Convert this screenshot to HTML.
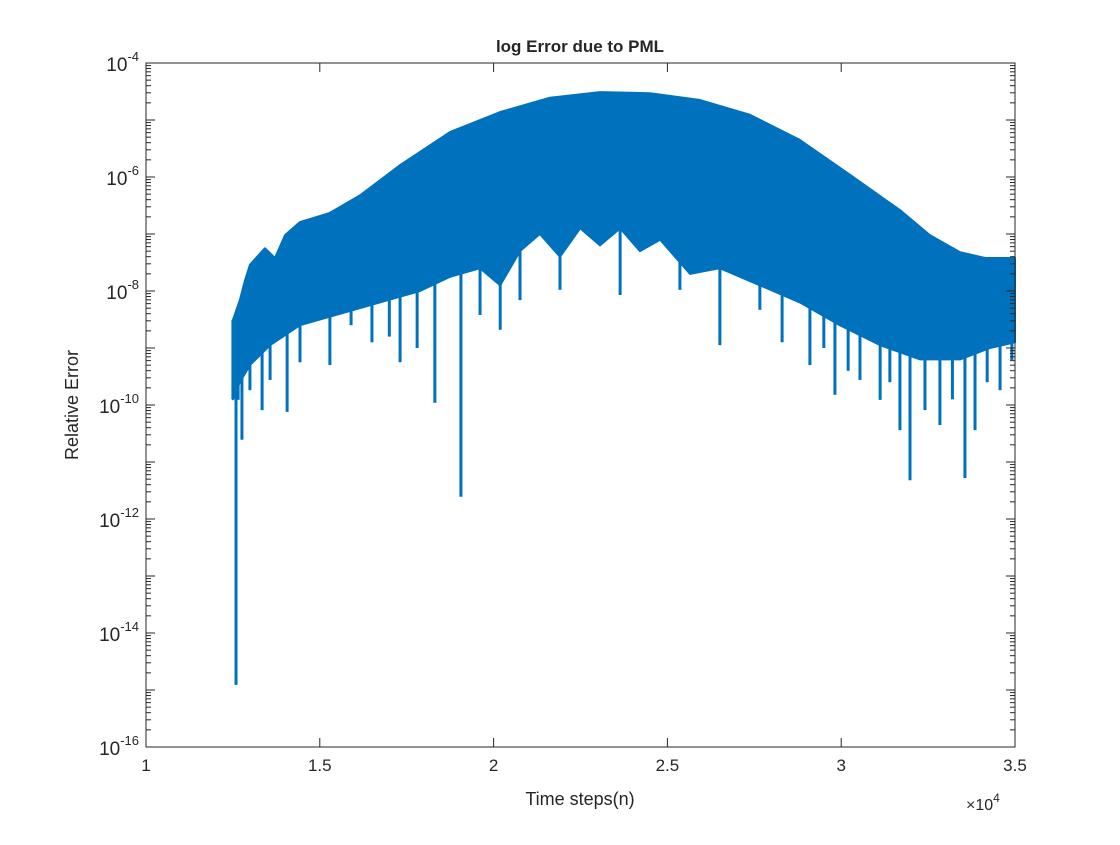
<!DOCTYPE html>
<html><head><meta charset="utf-8"><style>
body{margin:0;background:#fff;}
svg text{font-family:"Liberation Sans",Arial,sans-serif;fill:#262626;}
</style></head><body>
<svg id="chart" width="1120" height="840" xmlns="http://www.w3.org/2000/svg">
<rect width="1120" height="840" fill="#fff"/>
<g id="plot"></g>
<g id="axes"></g>
<text x="580" y="52" text-anchor="middle" font-size="17" font-weight="bold" fill="#000">log Error due to PML</text>
<text x="580" y="805" text-anchor="middle" font-size="18">Time steps(n)</text>
<text transform="translate(78,405) rotate(-90)" text-anchor="middle" font-size="18">Relative Error</text>
<text x="966" y="810" font-size="16">×10<tspan dy="-8" font-size="12">4</tspan></text>
</svg>
<script>
// x in units of 1e4 time steps, y as log10(relative error)
const upperX=[1.250,1.270,1.285,1.299,1.342,1.371,1.400,1.443,1.529,1.616,1.731,1.875,2.019,2.162,2.306,2.450,2.594,2.738,2.881,3.025,3.169,3.255,3.342,3.414,3.5];
const upperY=[-8.51,-8.16,-7.81,-7.54,-7.25,-7.42,-7.02,-6.79,-6.63,-6.32,-5.79,-5.21,-4.86,-4.61,-4.51,-4.53,-4.65,-4.91,-5.35,-5.96,-6.58,-7.02,-7.32,-7.42,-7.42];
const lowerX=[1.250,1.270,1.299,1.357,1.443,1.558,1.673,1.788,1.875,1.961,2.019,2.076,2.133,2.191,2.249,2.306,2.364,2.421,2.479,2.565,2.651,2.766,2.881,2.996,3.112,3.227,3.342,3.428,3.5];
const lowerY=[-9.9,-9.6,-9.3,-8.95,-8.6,-8.4,-8.2,-8.0,-7.75,-7.6,-7.9,-7.3,-7.0,-7.4,-6.9,-7.2,-6.9,-7.3,-7.1,-7.7,-7.6,-7.9,-8.2,-8.6,-8.95,-9.2,-9.2,-9.0,-8.9];
const spikeX=[1.259,1.265,1.276,1.299,1.334,1.357,1.406,1.443,1.529,1.590,1.650,1.700,1.731,1.780,1.831,1.906,1.961,2.019,2.076,2.191,2.364,2.536,2.651,2.766,2.830,2.910,2.950,2.982,3.020,3.054,3.112,3.140,3.169,3.198,3.241,3.284,3.320,3.356,3.385,3.420,3.457,3.491];
const spikeY=[-14.91,-9.91,-10.61,-9.74,-10.09,-9.56,-10.12,-9.25,-9.30,-8.60,-8.9,-8.8,-9.25,-9.0,-9.96,-11.61,-8.42,-8.68,-8.16,-7.98,-8.07,-7.98,-8.95,-8.33,-8.9,-9.30,-9.0,-9.82,-9.4,-9.56,-9.91,-9.6,-10.44,-11.32,-10.09,-10.35,-9.9,-11.28,-10.44,-9.6,-9.74,-9.21];
const xTicks=[1,1.5,2,2.5,3,3.5];
const xTickLabels=["1","1.5","2","2.5","3","3.5"];
const yTicks=[-4,-6,-8,-10,-12,-14,-16];
const yTickLabels=["-4","-6","-8","-10","-12","-14","-16"];

const L=146,R=1015,T=63,B=747,XMIN=1,XMAX=3.5,YMIN=-16,YMAX=-4;
const sx=v=>L+(v-XMIN)/(XMAX-XMIN)*(R-L);
const sy=v=>B-(v-YMIN)/(YMAX-YMIN)*(B-T);
const NS="http://www.w3.org/2000/svg";
const plot=document.getElementById('plot'),axes=document.getElementById('axes');
function mk(tag,attrs,parent){const e=document.createElementNS(NS,tag);for(const k in attrs)e.setAttribute(k,attrs[k]);parent.appendChild(e);return e;}
const C="#0072BD";
let pts=upperX.map((x,i)=>sx(x)+","+sy(upperY[i]));
for(let i=lowerX.length-1;i>=0;i--)pts.push(sx(lowerX[i])+","+sy(lowerY[i]));
const band=mk('polygon',{points:pts.join(' '),fill:C,stroke:C,'stroke-width':2,'stroke-linejoin':'round'},plot);


function lowerAt(x){for(let i=0;i<lowerX.length-1;i++){if(x>=lowerX[i]&&x<=lowerX[i+1]){const t=(x-lowerX[i])/(lowerX[i+1]-lowerX[i]);return lowerY[i]+t*(lowerY[i+1]-lowerY[i]);}}return lowerY[lowerY.length-1];}
spikeX.forEach((x,i)=>{
 const s=mk('line',{x1:sx(x),x2:sx(x),y1:sy(lowerAt(x)+0.3),y2:sy(spikeY[i]),stroke:C,'stroke-width':3},plot);
 
 
});
const e1=mk('line',{x1:sx(upperX[0]),x2:sx(upperX[0]),y1:sy(upperY[0]),y2:sy(lowerY[0]),stroke:C,'stroke-width':3},plot);


const box=mk('rect',{x:L,y:T,width:R-L,height:B-T,fill:'none',stroke:'#262626','stroke-width':1},axes);


xTicks.forEach((v,i)=>{
 const x=sx(v);
 mk('line',{x1:x,x2:x,y1:B,y2:B-9,stroke:'#262626'},axes);
 mk('line',{x1:x,x2:x,y1:T,y2:T+9,stroke:'#262626'},axes);
 const t=mk('text',{x:x,y:B+24,'text-anchor':'middle','font-size':17},axes);
 t.textContent=xTickLabels[i];
 
 
});
for(let d=YMIN;d<YMAX;d++){for(let m=2;m<=9;m++){const y=sy(d+Math.log10(m));
 mk('line',{x1:L,x2:L+5,y1:y,y2:y,stroke:'#262626'},axes);
 mk('line',{x1:R,x2:R-5,y1:y,y2:y,stroke:'#262626'},axes);}}
for(let d=YMIN;d<=YMAX;d++){const y=sy(d);
 mk('line',{x1:L,x2:L+9,y1:y,y2:y,stroke:'#262626'},axes);
 mk('line',{x1:R,x2:R-9,y1:y,y2:y,stroke:'#262626'},axes);}
yTicks.forEach((v,i)=>{
 const y=sy(v);
 const t=mk('text',{x:L-7,y:y+8,'text-anchor':'end','font-size':19},axes);
 t.textContent="10";
 const s=mk('tspan',{dy:-10,'font-size':13},t);
 s.textContent=yTickLabels[i];
 
 
});
</script>
</body></html>
